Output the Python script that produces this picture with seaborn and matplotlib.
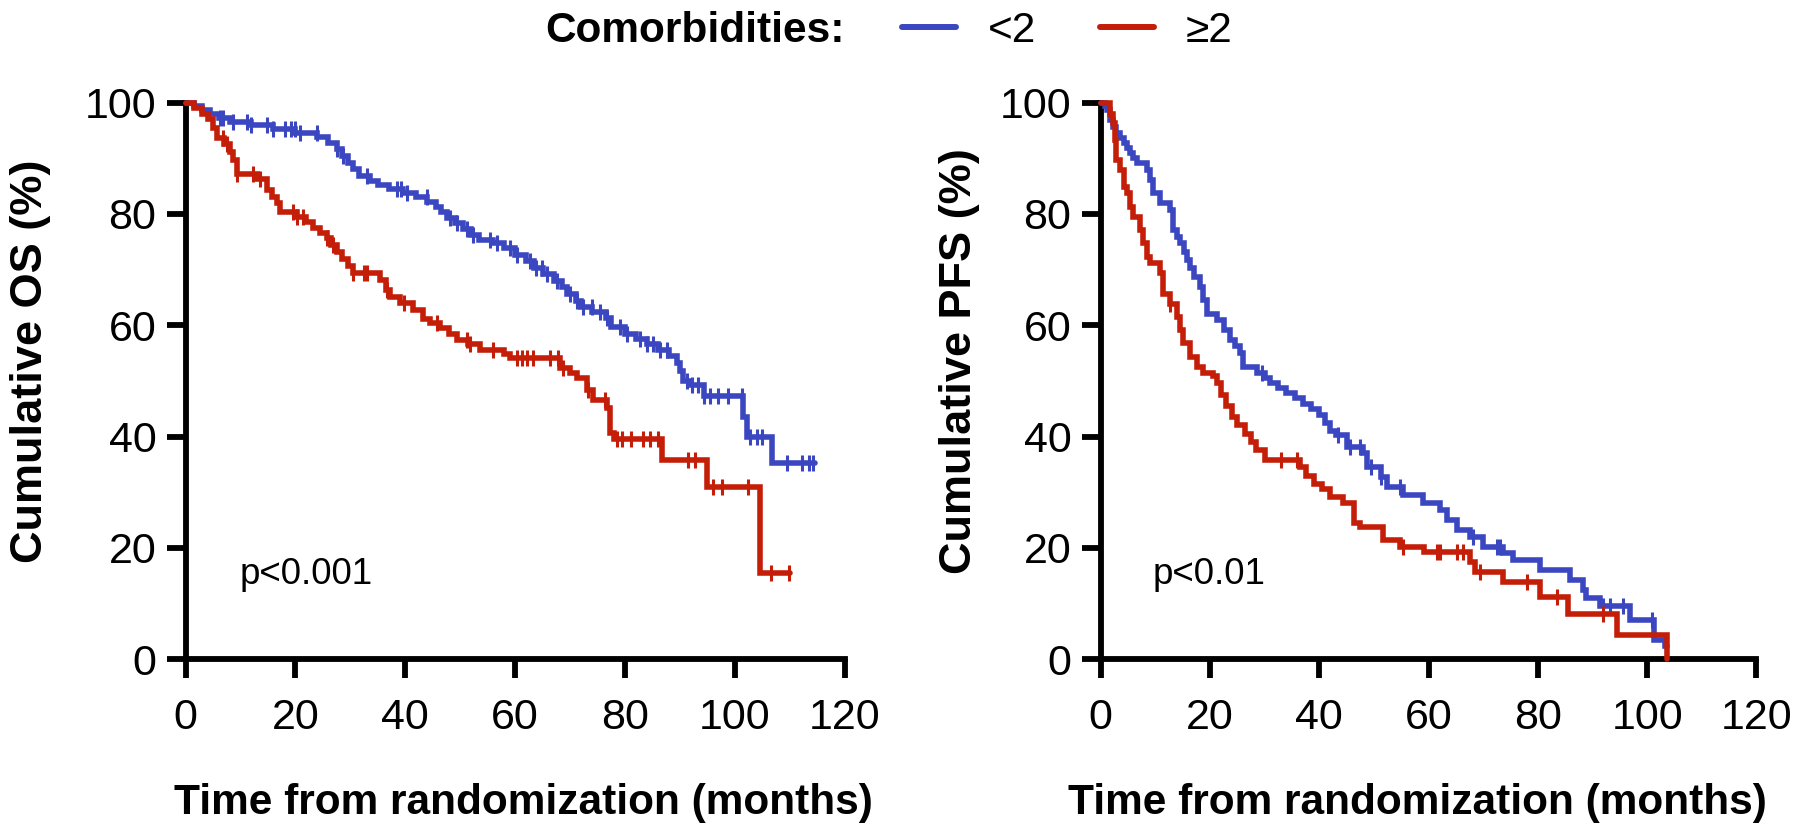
import numpy as np
import pandas as pd
import matplotlib
matplotlib.use("Agg")
import matplotlib.pyplot as plt
import seaborn as sns
from matplotlib.lines import Line2D

# ---------------- data ----------------
groups = ["<2", "\u22652"]
colors = ["#3b47c0", "#c41d08"]

# OS, <2
os_lt2_t = [0, 1.5, 3, 4.5, 6, 8, 12, 16, 20, 24, 26, 27.5, 28.5, 29.5, 30.5, 31.5, 33.5, 35, 37, 39.5,
            42, 44, 45.5, 46.5, 47.5, 49, 50.5, 52, 53.5, 56, 58, 60, 62, 63.5, 65, 67, 68.5, 69.5, 71, 72,
            74, 76.5, 77.5, 80, 82, 84, 86, 88, 89.5, 90, 90.6, 92, 94.3, 101.5, 102.2, 106.7, 114.6]
os_lt2_s = [100, 99.3, 98.6, 97.9, 97.2, 96.6, 95.9, 95.2, 94.5, 93.8, 92.8, 91.6, 90.4, 89.2, 88, 86.8, 86, 85.2, 84.5, 83.8,
            83, 82.2, 81.3, 80.3, 79.3, 78.3, 77.3, 76.3, 75.4, 74.7, 73.8, 72.7, 71.6, 70.3, 69.2, 67.9, 66.8, 65.6, 64.4, 63.2,
            62.4, 61.3, 59.7, 58.5, 57.6, 56.6, 55.5, 54.4, 53.2, 51.8, 50.0, 49.2, 47.2, 43.5, 40.0, 35.2, 35.2]
os_lt2_cens = [6.3, 6.8, 8.7, 11.1, 12, 14.8, 16, 18.1, 19.2, 19.9, 20.8, 23.9, 27.5, 28.7, 33, 38.4, 39.3, 40.3, 43.9,
               48.1, 49.4, 51.2, 52.4, 55.4, 56.7, 59, 60.3, 62.7, 63.8, 64.8, 65.8, 67.6, 70, 71.2, 72.4, 73.9,
               75.5, 76.7, 79, 80.3, 82.7, 84, 85.1, 86.3, 87.6, 91.2, 92.2, 93.3, 94.3, 95.5, 97, 98.8, 101.3,
               102.8, 104, 104.9, 109.4, 112.2, 113.4, 114.3]

# OS, >=2
os_ge2_t = [0, 1.5, 3, 4, 5, 5.7, 7, 8.1, 8.7, 9.3, 13, 14.8, 15.8, 16.6, 17.2, 20.2, 22, 23.2, 24.5, 25.7,
            26.5, 27.5, 28.5, 29.5, 30.5, 35.4, 36.5, 37.2, 39, 41.4, 43.2, 44.5, 46.3, 48, 49.4, 51.5, 53.6,
            58, 59.1, 68.2, 70, 71.2, 73, 74.2, 76.7, 77.3, 77.9, 86.7, 94.9, 104.6, 110]
os_ge2_s = [100, 99, 98, 97, 95.5, 93.6, 92.5, 91.2, 89.7, 87.2, 86.3, 84.3, 83, 81.9, 80.4, 79.4, 78.5, 77.5, 76.5, 75.6,
            74.4, 73.2, 71.9, 70.6, 69.3, 68.2, 66.3, 65, 64, 62.8, 61.2, 60.4, 59.5, 58.5, 57.4, 56.6, 55.6,
            54.8, 54.1, 52.3, 51.5, 50.5, 48.4, 46.6, 45.1, 40.6, 39.6, 35.8, 30.9, 15.5, 15.5]
os_ge2_cens = [6.8, 7.5, 9.3, 12.3, 13.6, 19.6, 20.2, 21.4, 25.7, 26.9, 30.5, 32.4, 33, 36.6, 39.7, 45.7,
               51.2, 51.8, 56, 60.3, 61.3, 62.2, 63.2, 66.3, 67.8, 68.7, 73.3, 76.4, 78.6, 79.4, 81,
               83.3, 84.6, 86, 91.5, 92.7, 96, 97.7, 102.4, 106.5, 109.8]

# PFS, <2
pfs_lt2_t = [0, 0.8, 1.1, 1.7, 2.3, 2.9, 3.6, 4.2, 4.8, 5.4, 6, 6.6, 8.4, 9, 9.6, 10.9, 12.7, 13.3, 13.9, 14.5,
             15.2, 15.8, 16.4, 17, 18.2, 18.8, 19.4, 21.3, 22.5, 23.7, 24.6, 25.5, 26.1, 28.6, 30, 31, 32.5, 34,
             35.5, 37, 38.5, 40, 41, 42, 43, 45, 48.1, 48.7, 51.3, 52.4, 55.4, 59, 62.1, 63.3, 65.2, 67.6, 70,
             73.7, 75.5, 80.4, 85.9, 88.3, 88.9, 91.4, 96.9, 101.2, 103.3, 103.6]
pfs_lt2_s = [100, 99.4, 98.7, 96.9, 95.7, 94.5, 93.6, 92.7, 91.8, 90.9, 90, 89.1, 87.9, 86.1, 83.7, 81.9, 80.7, 77.1, 75.9, 74.7,
             73.2, 71.7, 70.2, 68.7, 66.9, 64.5, 62.1, 60.9, 59.1, 57.3, 56.2, 55, 52.5, 51.4, 50.5, 49.6, 48.7, 47.8,
             46.9, 45.9, 45, 43.8, 42.5, 41, 40.3, 38.2, 37, 34.6, 32.8, 31, 29.5, 28, 26.8, 25, 23.2, 22, 20.2,
             19, 17.8, 16, 14.3, 12.5, 11, 9.5, 7.1, 3.5, 2.4, 2.4]
pfs_lt2_cens = [29.5, 43.5, 45.6, 47.5, 49.4, 51.3, 54.8, 68.2, 72.5, 73.1, 92, 93.2, 95.6, 100.9, 103.5]

# PFS, >=2
pfs_ge2_t = [0, 1.7, 2.3, 2.6, 2.9, 3.6, 4.2, 4.8, 5.4, 6, 7.2, 7.8, 8.4, 9, 10.9, 11.5, 12.7, 13.9, 14.5, 15.1,
             16.4, 17.6, 18.8, 20.6, 21.3, 22, 23, 24, 25, 26.5, 27.5, 28.5, 30, 36.5, 37.5, 39, 40.5, 42,
             44.4, 46.3, 47.5, 51.7, 54.8, 59.1, 67.6, 68.5, 73.7, 80.4, 85.6, 94.5, 103.6]
pfs_ge2_s = [100, 98, 96.3, 93.3, 89.7, 87.9, 84.9, 83.7, 81.3, 79.5, 77.1, 74.7, 72.3, 71.1, 69.3, 65.7, 63.9, 61.5, 59.1, 56.8,
             54.3, 52.5, 51.4, 50.8, 49.6, 47.5, 45.5, 43.5, 42, 40.5, 39, 37.5, 35.8, 34.5, 33, 31.5, 30.5, 29.2,
             28.0, 24.4, 23.8, 21.4, 20.2, 19.3, 17.5, 15.7, 13.9, 11.2, 8.2, 4.3, 4.3]
pfs_ge2_end = 0
pfs_ge2_cens = [12.7, 33, 36, 55.4, 61.5, 62.1, 65.2, 66.4, 69.5, 78, 83.5, 92]

p_texts = ["p<0.001", "p<0.01"]
y_labels = ["Cumulative OS (%)", "Cumulative PFS (%)"]
x_label = "Time from randomization (months)"
x_ticks = [0, 20, 40, 60, 80, 100, 120]
y_ticks = [0, 20, 40, 60, 80, 100]

# ---------------- style ----------------
sns.set_style("ticks")
plt.rcParams["font.family"] = ["Liberation Sans", "DejaVu Sans"]
for k in ["text.color", "axes.labelcolor", "xtick.color", "ytick.color", "axes.edgecolor"]:
    plt.rcParams[k] = "black"
FS_TICK = 31
FS_XLAB = 30.5
FS_YLAB = 32.5
FS_LEG = 30.5
FS_P = 26.5
SPINE_W = 4.2

fig = plt.figure(figsize=(18.07, 8.24), dpi=100)
ax1 = fig.add_axes([0.1027, 0.2, 0.3648, 0.6755])
ax2 = fig.add_axes([0.6091, 0.2, 0.3629, 0.6755])


def km_df(t, s, end_val=None):
    t = list(t)
    s = list(s)
    if end_val is not None:
        s = s + [end_val]
        t = t + [t[-1]]
    return pd.DataFrame({"t": t, "s": s})


def cens_y(t, s, c):
    t = np.asarray(t, float)
    s = np.asarray(s, float)
    idx = np.searchsorted(t, np.asarray(c, float), side="right") - 1
    idx = np.clip(idx, 0, len(s) - 1)
    return s[idx]


panels = [
    (ax1, [(os_lt2_t, os_lt2_s, os_lt2_cens, None),
           (os_ge2_t, os_ge2_s, os_ge2_cens, None)]),
    (ax2, [(pfs_lt2_t, pfs_lt2_s, pfs_lt2_cens, None),
           (pfs_ge2_t, pfs_ge2_s, pfs_ge2_cens, pfs_ge2_end)]),
]

ylab_x = [-0.2045, -0.1847]
xlab_x = [0.513, 0.483]
p_x = [9.8, 9.5]

for i, (ax, curves) in enumerate(panels):
    for g, (t, s, c, endv) in enumerate(curves):
        df = km_df(t, s, endv)
        sns.lineplot(data=df, x="t", y="s", ax=ax, color=colors[g], lw=4.0,
                     drawstyle="steps-post", estimator=None, sort=False, clip_on=False,
                     solid_joinstyle="miter", zorder=3 + g)
        cy = cens_y(t, s, c)
        cdf = pd.DataFrame({"t": c, "s": cy})
        sns.scatterplot(data=cdf, x="t", y="s", ax=ax, color=colors[g], marker="|",
                        s=120, linewidth=2.2, clip_on=False, zorder=3 + g, legend=False)

    ax.set_xlim(0, 120)
    ax.set_ylim(0, 100)
    ax.set_xticks(x_ticks)
    ax.set_yticks(y_ticks)
    ax.tick_params(axis="both", labelsize=FS_TICK, width=SPINE_W, length=14, direction="out",
                   color="black", labelcolor="black")
    ax.tick_params(axis="x", pad=14)
    ax.tick_params(axis="y", pad=7)
    for sp in ["left", "bottom"]:
        ax.spines[sp].set_linewidth(SPINE_W)
        ax.spines[sp].set_color("black")
        ax.spines[sp].set_capstyle("projecting")
    ax.spines["top"].set_visible(False)
    ax.spines["right"].set_visible(False)
    ax.set_xlabel(x_label, fontsize=FS_XLAB, fontweight="bold")
    ax.set_ylabel(y_labels[i], fontsize=FS_YLAB, fontweight="bold")
    ax.xaxis.set_label_coords(xlab_x[i], -0.222)
    ax.yaxis.set_label_coords(ylab_x[i], 0.535)
    ax.text(p_x[i], 15.3, p_texts[i], fontsize=FS_P, va="center", ha="left")

# legend
fig.text(0.4675, 1 - 31 / 824, "Comorbidities:", fontsize=FS_LEG, fontweight="bold",
         ha="right", va="center")
handles = [Line2D([], [], color=colors[0], lw=4.3), Line2D([], [], color=colors[1], lw=4.3)]
fig.legend(handles, groups, loc="center left", bbox_to_anchor=(0.4992, 1 - 31 / 824), ncol=2,
           frameon=False, fontsize=FS_LEG, handlelength=1.27, handletextpad=0.76, columnspacing=1.5,
           borderaxespad=0, borderpad=0)

fig.savefig("out.png", dpi=100)
